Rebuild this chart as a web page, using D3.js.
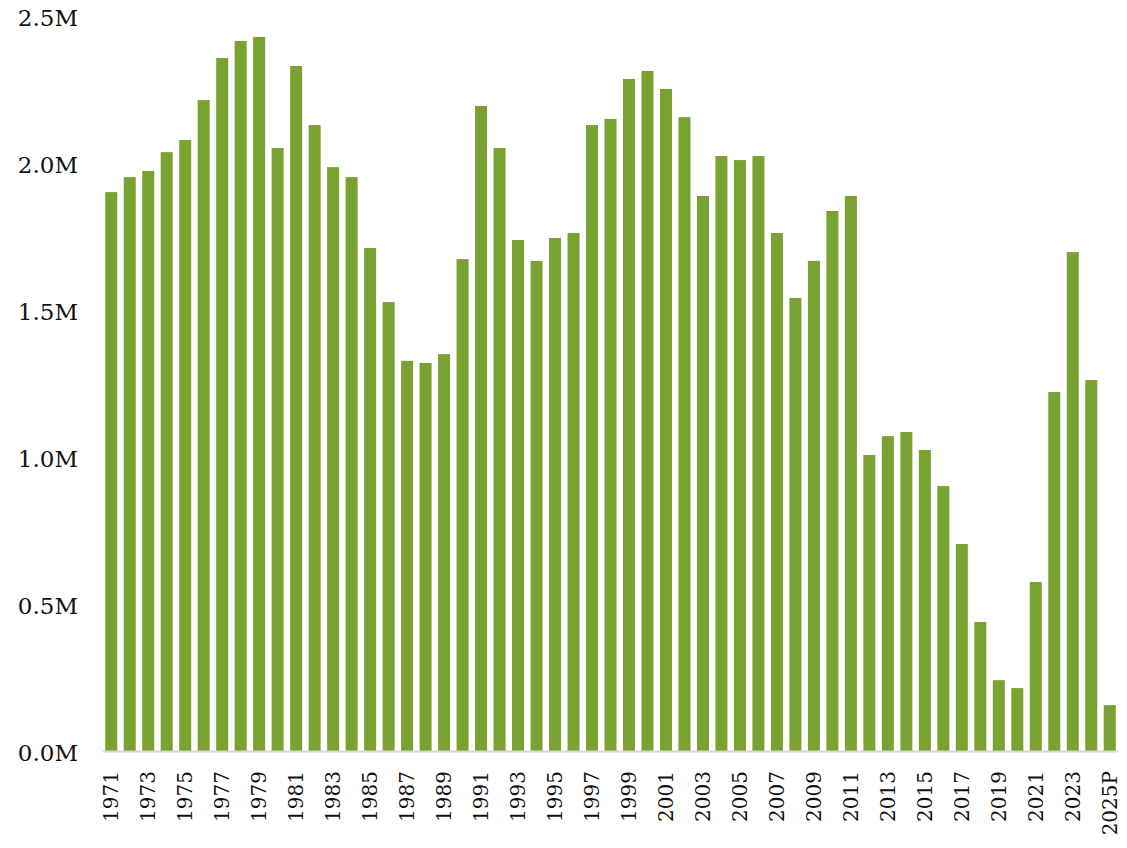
<!DOCTYPE html>
<html>
<head>
<meta charset="utf-8">
<script src="https://cdn.jsdelivr.net/npm/d3@7"></script>
<style>
  html, body { margin: 0; padding: 0; background: #fff; }
  svg text { font-family: Georgia, "DejaVu Serif", serif; fill: #111; }
</style>
</head>
<body>
<svg id="chart" width="1127" height="848"></svg>
<script>
// years along the x-axis (last one is a projection)
const years = [
    "1971", "1972", "1973", "1974", "1975", "1976", "1977", "1978", "1979", "1980",
    "1981", "1982", "1983", "1984", "1985", "1986", "1987", "1988", "1989", "1990",
    "1991", "1992", "1993", "1994", "1995", "1996", "1997", "1998", "1999", "2000",
    "2001", "2002", "2003", "2004", "2005", "2006", "2007", "2008", "2009", "2010",
    "2011", "2012", "2013", "2014", "2015", "2016", "2017", "2018", "2019", "2020",
    "2021", "2022", "2023", "2024", "2025P"
];

// values in millions
const values = [
    1.901, 1.952, 1.973, 2.037, 2.078, 2.214, 2.357, 2.415, 2.429, 2.051,
    2.330, 2.129, 1.986, 1.952, 1.711, 1.527, 1.327, 1.320, 1.350, 1.673,
    2.194, 2.051, 1.738, 1.667, 1.745, 1.762, 2.129, 2.150, 2.286, 2.313,
    2.252, 2.156, 1.888, 2.024, 2.010, 2.024, 1.762, 1.541, 1.667, 1.837,
    1.888, 1.007, 1.071, 1.085, 1.024, 0.901, 0.704, 0.439, 0.241, 0.214,
    0.575, 1.221, 1.697, 1.262, 0.156
];

// y tick values (millions)
const yTicks = [0, 0.5, 1.0, 1.5, 2.0, 2.5];

// only every other year gets a label, plus the projection
const xLabels = years.filter((d, i) => i % 2 === 0);

const data = years.map((y, i) => ({ year: y, value: values[i] }));

// margins & dimensions
const margin = { top: 16, right: 8, bottom: 97, left: 102 };
const fullWidth = 1127;
const fullHeight = 848;
const width = fullWidth - margin.left - margin.right;
const height = fullHeight - margin.top - margin.bottom;

const svg = d3.select("#chart")
    .append("g")
    .attr("transform", `translate(${margin.left},${margin.top})`);

// scales
const x = d3.scaleBand()
    .domain(years)
    .range([0, width])
    .paddingInner(0.35)
    .paddingOuter(0.175);

const y = d3.scaleLinear()
    .domain([0, 2.5])
    .range([height, 0]);

// bars
svg.selectAll("rect.bar")
    .data(data)
    .join("rect")
    .attr("class", "bar")
    .attr("x", d => x(d.year))
    .attr("y", d => y(d.value))
    .attr("width", x.bandwidth())
    .attr("height", d => height - y(d.value))
    .attr("fill", "#7aa233");

// baseline
svg.append("line")
    .attr("x1", 1)
    .attr("x2", width - 1)
    .attr("y1", height + 0.5)
    .attr("y2", height + 0.5)
    .attr("stroke", "#d6d6d6")
    .attr("stroke-width", 2);

// y axis (labels only)
const yAxis = svg.append("g")
    .call(d3.axisLeft(y)
        .tickValues(yTicks)
        .tickSize(0)
        .tickPadding(24)
        .tickFormat(d => d3.format(".1f")(d) + "M"));
yAxis.select(".domain").remove();
yAxis.selectAll("text")
    .style("font-size", "23px")
    .attr("dy", "0.42em")
    .style("font-family", "Georgia, 'DejaVu Serif', serif")
    .attr("fill", "#111");

// x axis (rotated labels)
const xAxis = svg.append("g")
    .attr("transform", `translate(0,${height})`)
    .call(d3.axisBottom(x)
        .tickValues(xLabels)
        .tickSize(0)
        .tickPadding(0));
xAxis.select(".domain").remove();
xAxis.selectAll("text")
    .attr("transform", "rotate(-90)")
    .attr("text-anchor", "end")
    .attr("x", -20)
    .attr("y", 0)
    .attr("dy", "0.36em")
    .style("font-size", "20px")
    .style("font-family", "Georgia, 'DejaVu Serif', serif")
    .attr("fill", "#111");
</script>
</body>
</html>
